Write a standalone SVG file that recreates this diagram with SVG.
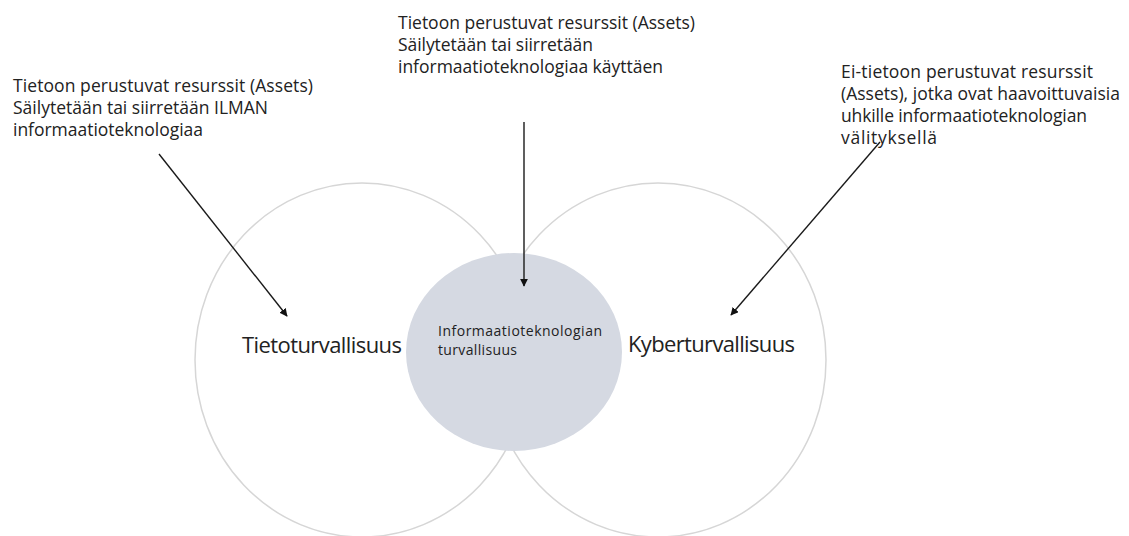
<svg xmlns="http://www.w3.org/2000/svg" width="1129" height="536" viewBox="0 0 1129 536">
<defs>
<style>
.ring{fill:none;stroke:#d6d6d6;stroke-width:1.5}
.core{fill:#d5d9e2;stroke:none}
.t{font-family:"Open Sans","Noto Sans","Liberation Sans",sans-serif;fill:#222222}
.note{font-size:17.5px}
.big{font-size:22px}
.small{font-size:14px}
.conn{stroke:#1a1a1a;stroke-width:1.4;fill:none;marker-end:url(#ah)}
</style>
<marker id="ah" viewBox="0 0 10 10" refX="9" refY="5" markerWidth="8" markerHeight="8" markerUnits="userSpaceOnUse" orient="auto">
<path d="M0,0 L10,5 L0,10 Z" fill="#111"/>
</marker>
</defs>
<rect width="1129" height="536" fill="#ffffff"/>
<g id="tietoturvallisuus">
<ellipse class="ring" cx="362" cy="360" rx="167" ry="177"/>
<text class="t big" x="242" y="353" textLength="160">Tietoturvallisuus</text>
</g>
<g id="kyberturvallisuus">
<ellipse class="ring" cx="658" cy="360" rx="168" ry="177"/>
<text class="t big" x="628" y="352" textLength="167">Kyberturvallisuus</text>
</g>
<g id="it-turvallisuus">
<ellipse class="core" cx="514" cy="352" rx="108" ry="99"/>
<text class="t small" x="438" y="336" textLength="164">Informaatioteknologian</text>
<text class="t small" x="438" y="355" textLength="79">turvallisuus</text>
</g>
<g id="note-left">
<text class="t note" x="13" y="92" textLength="300">Tietoon perustuvat resurssit (Assets)</text>
<text class="t note" x="13" y="114" textLength="255">Säilytetään tai siirretään ILMAN</text>
<text class="t note" x="13" y="136" textLength="190">informaatioteknologiaa</text>
</g>
<g id="note-middle">
<text class="t note" x="398" y="29" textLength="297">Tietoon perustuvat resurssit (Assets)</text>
<text class="t note" x="398" y="51" textLength="195">Säilytetään tai siirretään</text>
<text class="t note" x="398" y="73" textLength="265">informaatioteknologiaa käyttäen</text>
</g>
<g id="note-right">
<text class="t note" x="841" y="78" textLength="252">Ei-tietoon perustuvat resurssit</text>
<text class="t note" x="841" y="100" textLength="279">(Assets), jotka ovat haavoittuvaisia</text>
<text class="t note" x="841" y="122" textLength="246">uhkille informaatioteknologian</text>
<text class="t note" x="841" y="144" textLength="96">välityksellä</text>
</g>
<g id="connectors">
<line class="conn" x1="159" y1="154" x2="287" y2="316"/>
<line class="conn" x1="524" y1="122" x2="524" y2="286"/>
<line class="conn" x1="880" y1="142" x2="731" y2="315"/>
</g>
</svg>
